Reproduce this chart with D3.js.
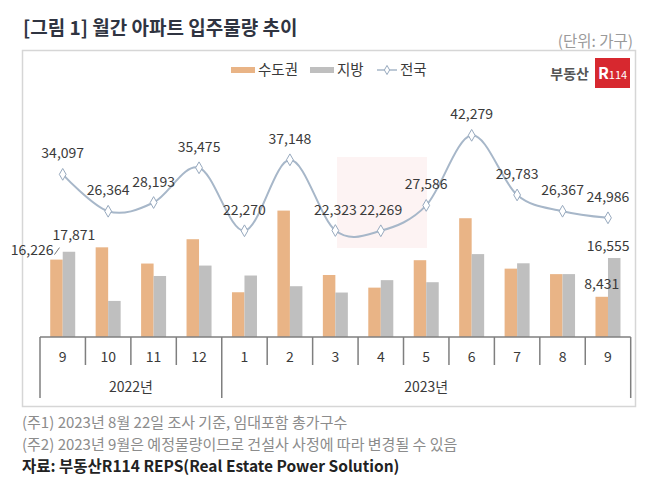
<!DOCTYPE html>
<html>
<head>
<meta charset="utf-8">
<script src="https://cdnjs.cloudflare.com/ajax/libs/d3/7.8.5/d3.min.js"></script>
<style>
  body { margin: 0; background: #fff; }
  svg { display: block; font-family: "Noto Sans CJK KR", "Noto Sans", sans-serif; }
</style>
</head>
<body>
<div id="chart"></div>
<script>
// monthly data, 2022-09 .. 2023-09
var months = ['9', '10', '11', '12', '1', '2', '3', '4', '5', '6', '7', '8', '9'];
var years = [{label: '2022년', from: 0, to: 4}, {label: '2023년', from: 4, to: 13}];
var capital = [16226, 18800, 15400, 20500, 9380, 26500, 13000, 10350, 16100, 24900, 14330, 13180, 8431];
var local = [17871, 7564, 12793, 14975, 12890, 10648, 9323, 11919, 11486, 17379, 15453, 13187, 16555];
var total = [34097, 26364, 28193, 35475, 22270, 37148, 22323, 22269, 27586, 42279, 29783, 26367, 24986];

var W = 658, H = 483;
var fmt = d3.format(',');
var colCapital = '#e9b486', colLocal = '#bfbfbf', colLine = '#a7b7c9', txt = '#3a3a3a';

var svg = d3.select('#chart').append('svg')
    .attr('width', W).attr('height', H)
    .attr('viewBox', '0 0 ' + W + ' ' + H);

// title / unit
svg.append('text').attr('x', 23).attr('y', 35)
    .style('font-size', '19px').style('font-weight', 'bold').style('fill', '#2f3441')
    .text('[그림 1] 월간 아파트 입주물량 추이');
svg.append('text').attr('x', 633).attr('y', 47).attr('text-anchor', 'end')
    .style('font-size', '15.5px').style('fill', '#9a9a9a')
    .text('(단위: 가구)');

// frame
svg.append('rect').attr('x', 22.5).attr('y', 50.5).attr('width', 613).attr('height', 356)
    .attr('fill', 'none').attr('stroke', '#d6d6d6').attr('stroke-width', 1.5);

// scales
var x = d3.scaleBand().domain(d3.range(months.length)).range([40, 630.7]);
var y = d3.scaleLinear().domain([0, 50000]).range([337, 98.5]);
var barW = 12.5;

// faint watermark box
svg.append('rect').attr('x', 337).attr('y', 157).attr('width', 90).attr('height', 91).attr('fill', '#fdf3f3');

// bars
var bars = svg.append('g');
bars.selectAll('.cap').data(capital).enter().append('rect')
    .attr('x', function(d, i) { return x(i) + x.bandwidth() / 2 - barW; })
    .attr('y', function(d) { return y(d); })
    .attr('width', barW)
    .attr('height', function(d) { return y(0) - y(d); })
    .attr('fill', colCapital);
bars.selectAll('.loc').data(local).enter().append('rect')
    .attr('x', function(d, i) { return x(i) + x.bandwidth() / 2; })
    .attr('y', function(d) { return y(d); })
    .attr('width', barW)
    .attr('height', function(d) { return y(0) - y(d); })
    .attr('fill', colLocal);

// bar labels (first and last month only)
var last = months.length - 1;
function cx(i, s) { return x(i) + x.bandwidth() / 2 + s * barW / 2; }
var barLabels = [
    {v: capital[0], x: cx(0, -1) - 3, y: y(capital[0]) - 5, anchor: 'end'},
    {v: local[0], x: cx(0, 1) + 5, y: y(local[0]) - 12, anchor: 'middle'},
    {v: capital[last], x: cx(last, -1), y: y(capital[last]) - 8, anchor: 'middle'},
    {v: local[last], x: cx(last, 1) - 6, y: y(local[last]) - 7, anchor: 'middle'}
];
svg.append('line').attr('x1', cx(0, -1) - 2).attr('y1', y(capital[0]) - 5)
    .attr('x2', cx(0, -1) + 3).attr('y2', y(capital[0]) - 12)
    .attr('stroke', '#777').attr('stroke-width', 1);
svg.selectAll('.blab').data(barLabels).enter().append('text')
    .attr('x', function(d) { return d.x; })
    .attr('y', function(d) { return d.y; })
    .attr('text-anchor', function(d) { return d.anchor; })
    .style('font-size', '14px').style('fill', txt)
    .text(function(d) { return fmt(d.v); });

// total line
var line = d3.line()
    .x(function(d, i) { return x(i) + x.bandwidth() / 2; })
    .y(function(d) { return y(d); })
    .curve(d3.curveCardinal);
svg.append('path').datum(total).attr('d', line)
    .attr('fill', 'none').attr('stroke', colLine).attr('stroke-width', 2);
var diamond = d3.symbol().type(d3.symbolDiamond).size(40);
svg.selectAll('.pt').data(total).enter().append('path')
    .attr('d', diamond)
    .attr('transform', function(d, i) { return 'translate(' + (x(i) + x.bandwidth() / 2) + ',' + y(d) + ')'; })
    .attr('fill', '#fff').attr('stroke', '#97a9be').attr('stroke-width', 1);
svg.selectAll('.tlab').data(total).enter().append('text')
    .attr('x', function(d, i) { return x(i) + x.bandwidth() / 2; })
    .attr('y', function(d) { return y(d) - 16; })
    .attr('text-anchor', 'middle')
    .style('font-size', '14px').style('fill', txt)
    .text(function(d) { return fmt(d); });

// category axis
var ax = svg.append('g').attr('stroke', '#7f7f7f').attr('stroke-width', 1.5);
ax.append('line').attr('x1', x.range()[0]).attr('x2', x.range()[1]).attr('y1', y(0)).attr('y2', y(0));
var bounds = d3.range(months.length + 1).map(function(i) { return x.range()[0] + i * x.step(); });
var yearEdges = [0, 4, 13];
ax.selectAll('.tk').data(bounds).enter().append('line')
    .attr('x1', function(d) { return d; }).attr('x2', function(d) { return d; })
    .attr('y1', y(0))
    .attr('y2', function(d, i) { return yearEdges.indexOf(i) >= 0 ? 398 : 365; });
svg.selectAll('.mlab').data(months).enter().append('text')
    .attr('x', function(d, i) { return x(i) + x.bandwidth() / 2; })
    .attr('y', 362)
    .attr('text-anchor', 'middle')
    .style('font-size', '14px').style('fill', txt)
    .text(function(d) { return d; });
svg.selectAll('.ylab').data(years).enter().append('text')
    .attr('x', function(d) { return (bounds[d.from] + bounds[d.to]) / 2; })
    .attr('y', 392)
    .attr('text-anchor', 'middle')
    .style('font-size', '14px').style('fill', txt)
    .text(function(d) { return d.label; });

// legend
var lg = svg.append('g').style('font-size', '14.5px').style('fill', txt);
lg.append('rect').attr('x', 231).attr('y', 67).attr('width', 24).attr('height', 6).attr('fill', colCapital);
lg.append('text').attr('x', 258).attr('y', 75).text('수도권');
lg.append('rect').attr('x', 310).attr('y', 67).attr('width', 24).attr('height', 6).attr('fill', colLocal);
lg.append('text').attr('x', 337).attr('y', 75).text('지방');
lg.append('line').attr('x1', 377).attr('x2', 397).attr('y1', 70).attr('y2', 70)
    .attr('stroke', colLine).attr('stroke-width', 1.5);
lg.append('path').attr('d', d3.symbol().type(d3.symbolDiamond).size(24))
    .attr('transform', 'translate(387,70)').attr('fill', '#fff').attr('stroke', '#97a9be');
lg.append('text').attr('x', 400).attr('y', 75).text('전국');

// logo
svg.append('text').attr('x', 589).attr('y', 79).attr('text-anchor', 'end')
    .style('font-size', '14px').style('font-weight', 'bold').style('fill', '#555')
    .text('부동산');
svg.append('rect').attr('x', 595).attr('y', 58).attr('width', 35).attr('height', 30).attr('fill', '#d7282f');
var r = svg.append('text').attr('x', 612.5).attr('y', 79).attr('text-anchor', 'middle')
    .style('fill', '#fff').style('font-weight', 'bold');
r.append('tspan').style('font-size', '16px').text('R');
r.append('tspan').style('font-size', '11px').style('font-weight', 'normal').text('114');

// notes
var notes = svg.append('g').style('font-size', '15px');
notes.append('text').attr('x', 22).attr('y', 428).style('fill', '#8c8c8c')
    .text('(주1) 2023년 8월 22일 조사 기준, 임대포함 총가구수');
notes.append('text').attr('x', 22).attr('y', 450).style('fill', '#8c8c8c')
    .text('(주2) 2023년 9월은 예정물량이므로 건설사 사정에 따라 변경될 수 있음');
notes.append('text').attr('x', 22).attr('y', 472).style('fill', '#222').style('font-weight', 'bold')
    .style('font-size', '15.5px')
    .text('자료: 부동산R114 REPS(Real Estate Power Solution)');
</script>
</body>
</html>
